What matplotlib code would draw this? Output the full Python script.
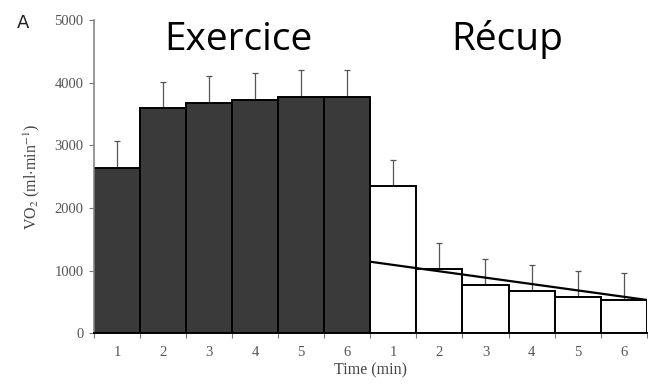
import numpy as np
import matplotlib.pyplot as plt

plt.rcParams["mathtext.fontset"] = "stix"

# VO2 per minute: 6 min of exercise then 6 min of recovery
minutes = ["1", "2", "3", "4", "5", "6"]
exo_mean = [2640, 3590, 3680, 3720, 3770, 3770]
exo_err = [430, 420, 420, 430, 430, 430]
rec_mean = [2350, 1020, 770, 670, 580, 530]
rec_err = [410, 420, 410, 420, 410, 430]
# fitted line over the recovery phase (value at start and end of recovery)
fit_start = 1140
fit_end = 530

fig = plt.figure(figsize=(6.48, 3.86), dpi=100)
ax = fig.add_axes([0.145, 0.137, 0.853, 0.811])

n = len(minutes)
x_exo = np.arange(n)
x_rec = np.arange(n, 2 * n)
ax.bar(x_exo, exo_mean, width=1, align="edge", color="#3a3a3a",
       edgecolor="black", linewidth=1.4, zorder=2)
ax.bar(x_rec, rec_mean, width=1, align="edge", color="white",
       edgecolor="black", linewidth=1.4, zorder=2)

# error bars only going up
for xs, m, e in [(x_exo, exo_mean, exo_err), (x_rec, rec_mean, rec_err)]:
    ax.errorbar(xs + 0.5, m, yerr=[np.zeros(n), e], fmt="none",
                ecolor="#555555", elinewidth=0.9, capsize=2.5,
                capthick=0.9, zorder=1)

ax.plot([n, 2 * n], [fit_start, fit_end], color="black", lw=1.6, zorder=3)

ax.set_xlim(0, 2 * n)
ax.set_ylim(0, 5000)
ax.set_yticks(range(0, 5001, 1000))
ax.set_xticks(range(0, 2 * n + 1))
ax.set_xticklabels([])
ax.set_xticks(np.arange(2 * n) + 0.5, minor=True)
ax.set_xticklabels(minutes + minutes, minor=True)
ax.tick_params(axis="x", which="minor", length=0, pad=9)
ax.tick_params(axis="both", which="major", length=3.5, color="#777777",
               labelcolor="#555555")
ax.tick_params(axis="y", which="major", pad=4)
ax.tick_params(axis="x", which="minor", labelcolor="#555555")
for lab in ax.get_xticklabels(minor=True) + ax.get_yticklabels():
    lab.set_family("Liberation Serif")
    lab.set_fontsize(10.5)

ax.spines["top"].set_visible(False)
ax.spines["right"].set_visible(False)
ax.spines["left"].set_color("#888888")
ax.spines["left"].set_linewidth(1.2)
ax.spines["bottom"].set_linewidth(1.4)

ax.set_xlabel("Time (min)", family="Liberation Serif", fontsize=11.5,
              color="#444444", labelpad=3)
ax.set_ylabel(r"VO$_2$ (ml$\cdot$min$^{-1}$)", family="Liberation Serif",
              fontsize=11.5, color="#444444", labelpad=9)

fig.text(0.026, 0.927, "A", fontsize=13, family="DejaVu Sans", color="#222222")
fig.text(0.368, 0.870, "Exercice", fontsize=28, family="Open Sans",
         ha="center", va="baseline")
fig.text(0.782, 0.870, "Récup", fontsize=28, family="Open Sans",
         ha="center", va="baseline")

fig.savefig("out.png", dpi=100)
